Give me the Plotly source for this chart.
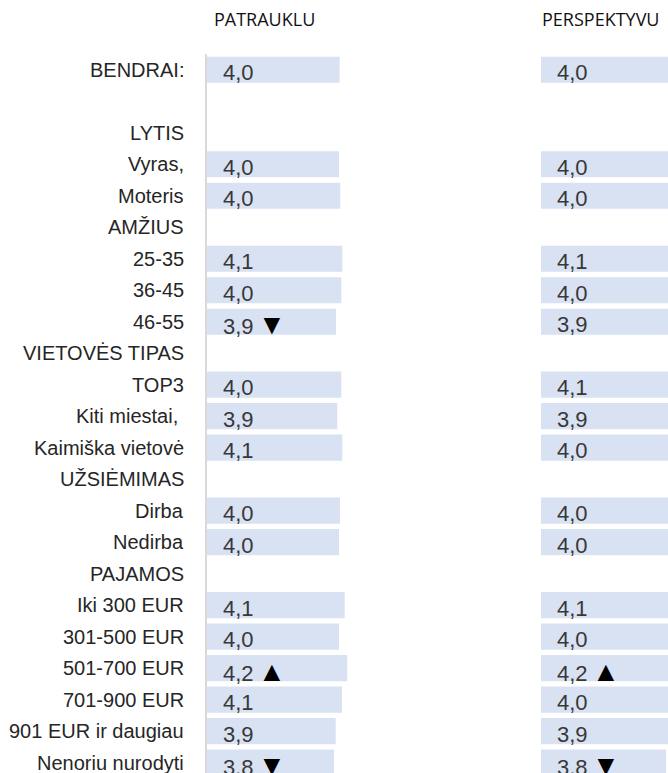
import plotly.graph_objects as go

# ---- data ----
categories = ["BENDRAI:", "", "LYTIS", "Vyras,", "Moteris", "AMŽIUS", "25-35", "36-45", "46-55",
              "VIETOVĖS TIPAS", "TOP3", "Kiti miestai,\u00a0", "Kaimiška vietovė", "UŽSIĖMIMAS",
              "Dirba", "Nedirba", "PAJAMOS", "Iki 300 EUR", "301-500 EUR", "501-700 EUR",
              "701-900 EUR", "901 EUR ir daugiau", "Nenoriu nurodyti"]

patrauklu_values = [3.98, None, None, 3.96, 4.00, None, 4.06, 4.03, 3.87,
                    None, 4.03, 3.91, 4.06, None,
                    3.99, 3.96, None, 4.13, 3.96, 4.21,
                    4.05, 3.86, 3.81]
patrauklu_labels = ["4,0", "", "", "4,0", "4,0", "", "4,1", "4,0", "3,9",
                    "", "4,0", "3,9", "4,1", "",
                    "4,0", "4,0", "", "4,1", "4,0", "4,2",
                    "4,1", "3,9", "3,8"]
patrauklu_marks = ["", "", "", "", "", "", "", "", "▼",
                   "", "", "", "", "",
                   "", "", "", "", "", "▲",
                   "", "", "▼"]

perspektyvu_values = [4.0, None, None, 4.0, 4.0, None, 4.1, 4.0, 3.9,
                      None, 4.1, 3.9, 4.0, None,
                      4.0, 4.0, None, 4.1, 4.0, 4.2,
                      4.0, 3.9, 3.8]
perspektyvu_labels = ["4,0", "", "", "4,0", "4,0", "", "4,1", "4,0", "3,9",
                      "", "4,1", "3,9", "4,0", "",
                      "4,0", "4,0", "", "4,1", "4,0", "4,2",
                      "4,0", "3,9", "3,8"]
perspektyvu_marks = ["", "", "", "", "", "", "", "", "",
                     "", "", "", "", "",
                     "", "", "", "", "", "▲",
                     "", "", "▼"]

panel_titles = ["PATRAUKLU", "PERSPEKTYVU"]

# ---- figure ----
W, H = 668, 773
rows = list(range(len(categories)))
bar_color = "#d9e2f3"

fig = go.Figure()
fig.add_trace(go.Bar(x=patrauklu_values, y=rows, orientation="h", xaxis="x", yaxis="y",
                     marker=dict(color=bar_color, line=dict(width=0)), width=0.83,
                     hoverinfo="skip", showlegend=False))
fig.add_trace(go.Bar(x=perspektyvu_values, y=rows, orientation="h", xaxis="x2", yaxis="y2",
                     marker=dict(color=bar_color, line=dict(width=0)), width=0.83,
                     hoverinfo="skip", showlegend=False))

annotations = []
label_font = dict(family="Liberation Sans, Arial, sans-serif", size=20, color="#262626")
value_font = dict(family="Liberation Sans, Arial, sans-serif", size=22, color="#383838")


def value_text(lab, mark):
    if mark:
        return lab + "\u2009<span style='font-size:28px;color:#000000'>" + mark + "</span>"
    return lab


for r, lab in zip(rows, categories):
    if lab:
        annotations.append(dict(text=lab, xref="paper", x=186 / W, xanchor="right",
                                yref="y", y=r, yanchor="middle", showarrow=False,
                                font=label_font))
for r, lab, mk in zip(rows, patrauklu_labels, patrauklu_marks):
    if lab:
        annotations.append(dict(text=value_text(lab, mk), xref="x", x=0, xanchor="left", xshift=14,
                                yref="y", y=r, yanchor="middle", yshift=-3, showarrow=False,
                                font=value_font))
for r, lab, mk in zip(rows, perspektyvu_labels, perspektyvu_marks):
    if lab:
        annotations.append(dict(text=value_text(lab, mk), xref="x2", x=0, xanchor="left", xshift=14,
                                yref="y2", y=r, yanchor="middle", yshift=-3, showarrow=False,
                                font=value_font))

title_font = dict(family="Open Sans, sans-serif", size=18, color="#111111")
for t, xc in zip(panel_titles, [264 / W, 600.5 / W]):
    annotations.append(dict(text=t, xref="paper", x=xc, xanchor="center",
                            yref="paper", y=1, yanchor="middle", yshift=35,
                            showarrow=False, font=title_font))

yr = [22.33, -0.5]
fig.update_layout(
    width=W, height=H,
    margin=dict(l=0, r=0, t=54, b=0, pad=0),
    paper_bgcolor="white", plot_bgcolor="white",
    barmode="overlay",
    xaxis=dict(domain=[207 / W, 357 / W], range=[0, 4.5], visible=False, fixedrange=True),
    xaxis2=dict(domain=[541 / W, 1.0], range=[0, 3.86], visible=False, fixedrange=True),
    yaxis=dict(range=yr, showline=True, linecolor="#d9d9d9", linewidth=2,
               showticklabels=False, showgrid=False, zeroline=False, ticks="", anchor="x"),
    yaxis2=dict(range=yr, showline=False, showticklabels=False, showgrid=False,
                zeroline=False, ticks="", anchor="x2"),
    annotations=annotations,
)

fig.write_html(
    "out.html",
    config={"displayModeBar": False},
    post_script="document.body.style.margin='0';document.body.style.padding='0';"
                "document.body.style.overflow='hidden';"
                "document.documentElement.style.overflow='hidden';",
)
